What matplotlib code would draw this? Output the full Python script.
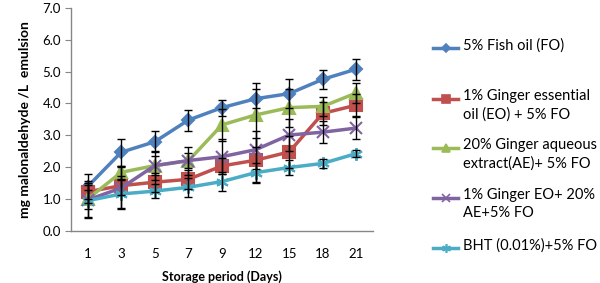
import matplotlib
matplotlib.use("Agg")
import matplotlib.pyplot as plt
from matplotlib.lines import Line2D
import numpy as np

days = ["1", "3", "5", "7", "9", "12", "15", "18", "21"]
fo = [1.39, 2.47, 2.80, 3.48, 3.87, 4.15, 4.31, 4.76, 5.08]
eo = [1.23, 1.42, 1.53, 1.62, 2.04, 2.22, 2.48, 3.69, 3.95]
ae = [1.00, 1.84, 2.05, 2.20, 3.33, 3.64, 3.87, 3.91, 4.33]
eoae = [0.97, 1.35, 2.05, 2.21, 2.33, 2.55, 3.01, 3.10, 3.23]
bht = [0.95, 1.16, 1.25, 1.37, 1.55, 1.83, 1.99, 2.12, 2.43]

fo_err = [0.40, 0.43, 0.33, 0.33, 0.25, 0.30, 0.45, 0.30, 0.33]
eo_err = [0.35, 0.30, 0.30, 0.30, 0.25, 0.70, 0.50, 0.35, 0.35]
ae_err = [0.30, 0.20, 0.45, 0.45, 0.50, 1.00, 0.60, 0.30, 0.30]
eoae_err = [0.55, 0.65, 0.30, 0.25, 0.55, 0.60, 0.50, 0.35, 0.35]
bht_err = [0.50, 0.45, 0.22, 0.30, 0.30, 0.30, 0.25, 0.15, 0.10]

labels = ["5% Fish oil (FO)",
          "1% Ginger essential\noil (EO) + 5% FO",
          "20% Ginger aqueous\nextract(AE)+ 5% FO",
          "1% Ginger EO+ 20%\nAE+5% FO",
          "BHT (0.01%)+5% FO"]

colors = ["#4F81BD", "#C0504D", "#9BBB59", "#8064A2", "#4BACC6"]
markers = ["D", "s", "^", "x", (6, 2, 0)]
msizes = [6, 8, 8, 8, 9]

plt.rcParams['font.family'] = ['Lato', 'DejaVu Sans']

fig = plt.figure(figsize=(6.0, 2.83), dpi=100)
ax = fig.add_axes([0.118, 0.184, 0.504, 0.788])

x = np.arange(len(days))
series = [fo, eo, ae, eoae, bht]
errs = [fo_err, eo_err, ae_err, eoae_err, bht_err]
for i, (s, e) in enumerate(zip(series, errs)):
    ax.plot(x, s, color=colors[i], lw=2.5, marker=markers[i], ms=msizes[i],
            mec=colors[i], mfc=colors[i], mew=1.5, zorder=3 + i * 0.1)
    ax.errorbar(x, s, yerr=e, fmt='none', ecolor='black', elinewidth=1,
                capsize=3, capthick=1, zorder=4 + i * 0.1)

ax.set_xlim(-0.5, len(days) - 0.5)
ax.set_ylim(0, 7)
ax.set_yticks(np.arange(0, 7.01, 1.0))
ax.set_yticklabels([f"{v:.1f}" for v in np.arange(0, 7.01, 1.0)], fontsize=9.5)
ax.set_xticks(x)
ax.set_xticklabels(days, fontsize=9.5)
ax.tick_params(axis='x', length=0, pad=12)
ax.tick_params(axis='y', length=4, color='#868686', pad=3)
for sp in ['top', 'right']:
    ax.spines[sp].set_visible(False)
for sp in ['left', 'bottom']:
    ax.spines[sp].set_color('#868686')
    ax.spines[sp].set_linewidth(1)

ax.set_xlabel("Storage period (Days)", fontsize=9, fontweight='bold', labelpad=8)
ax.set_ylabel("mg malonaldehyde /L  emulsion", fontsize=10, fontweight='bold', labelpad=8)

# legend (Excel style, handle aligned with first line)
W, H = 600.0, 283.0
ys = [48, 99, 148, 198, 248]
for i, lab in enumerate(labels):
    yf = 1 - ys[i] / H
    fig.add_artist(Line2D([433 / W, 458 / W], [yf, yf], transform=fig.transFigure,
                          color=colors[i], lw=2.5))
    fig.add_artist(Line2D([445.5 / W], [yf], transform=fig.transFigure,
                          color=colors[i], marker=markers[i], ms=msizes[i] * 0.7,
                          mew=1.2, lw=0))
    fig.text(463 / W, yf + 10 / H, lab, fontsize=10.5, va='top', ha='left',
             linespacing=1.38, transform=fig.transFigure)

fig.savefig("out.png", dpi=100)
